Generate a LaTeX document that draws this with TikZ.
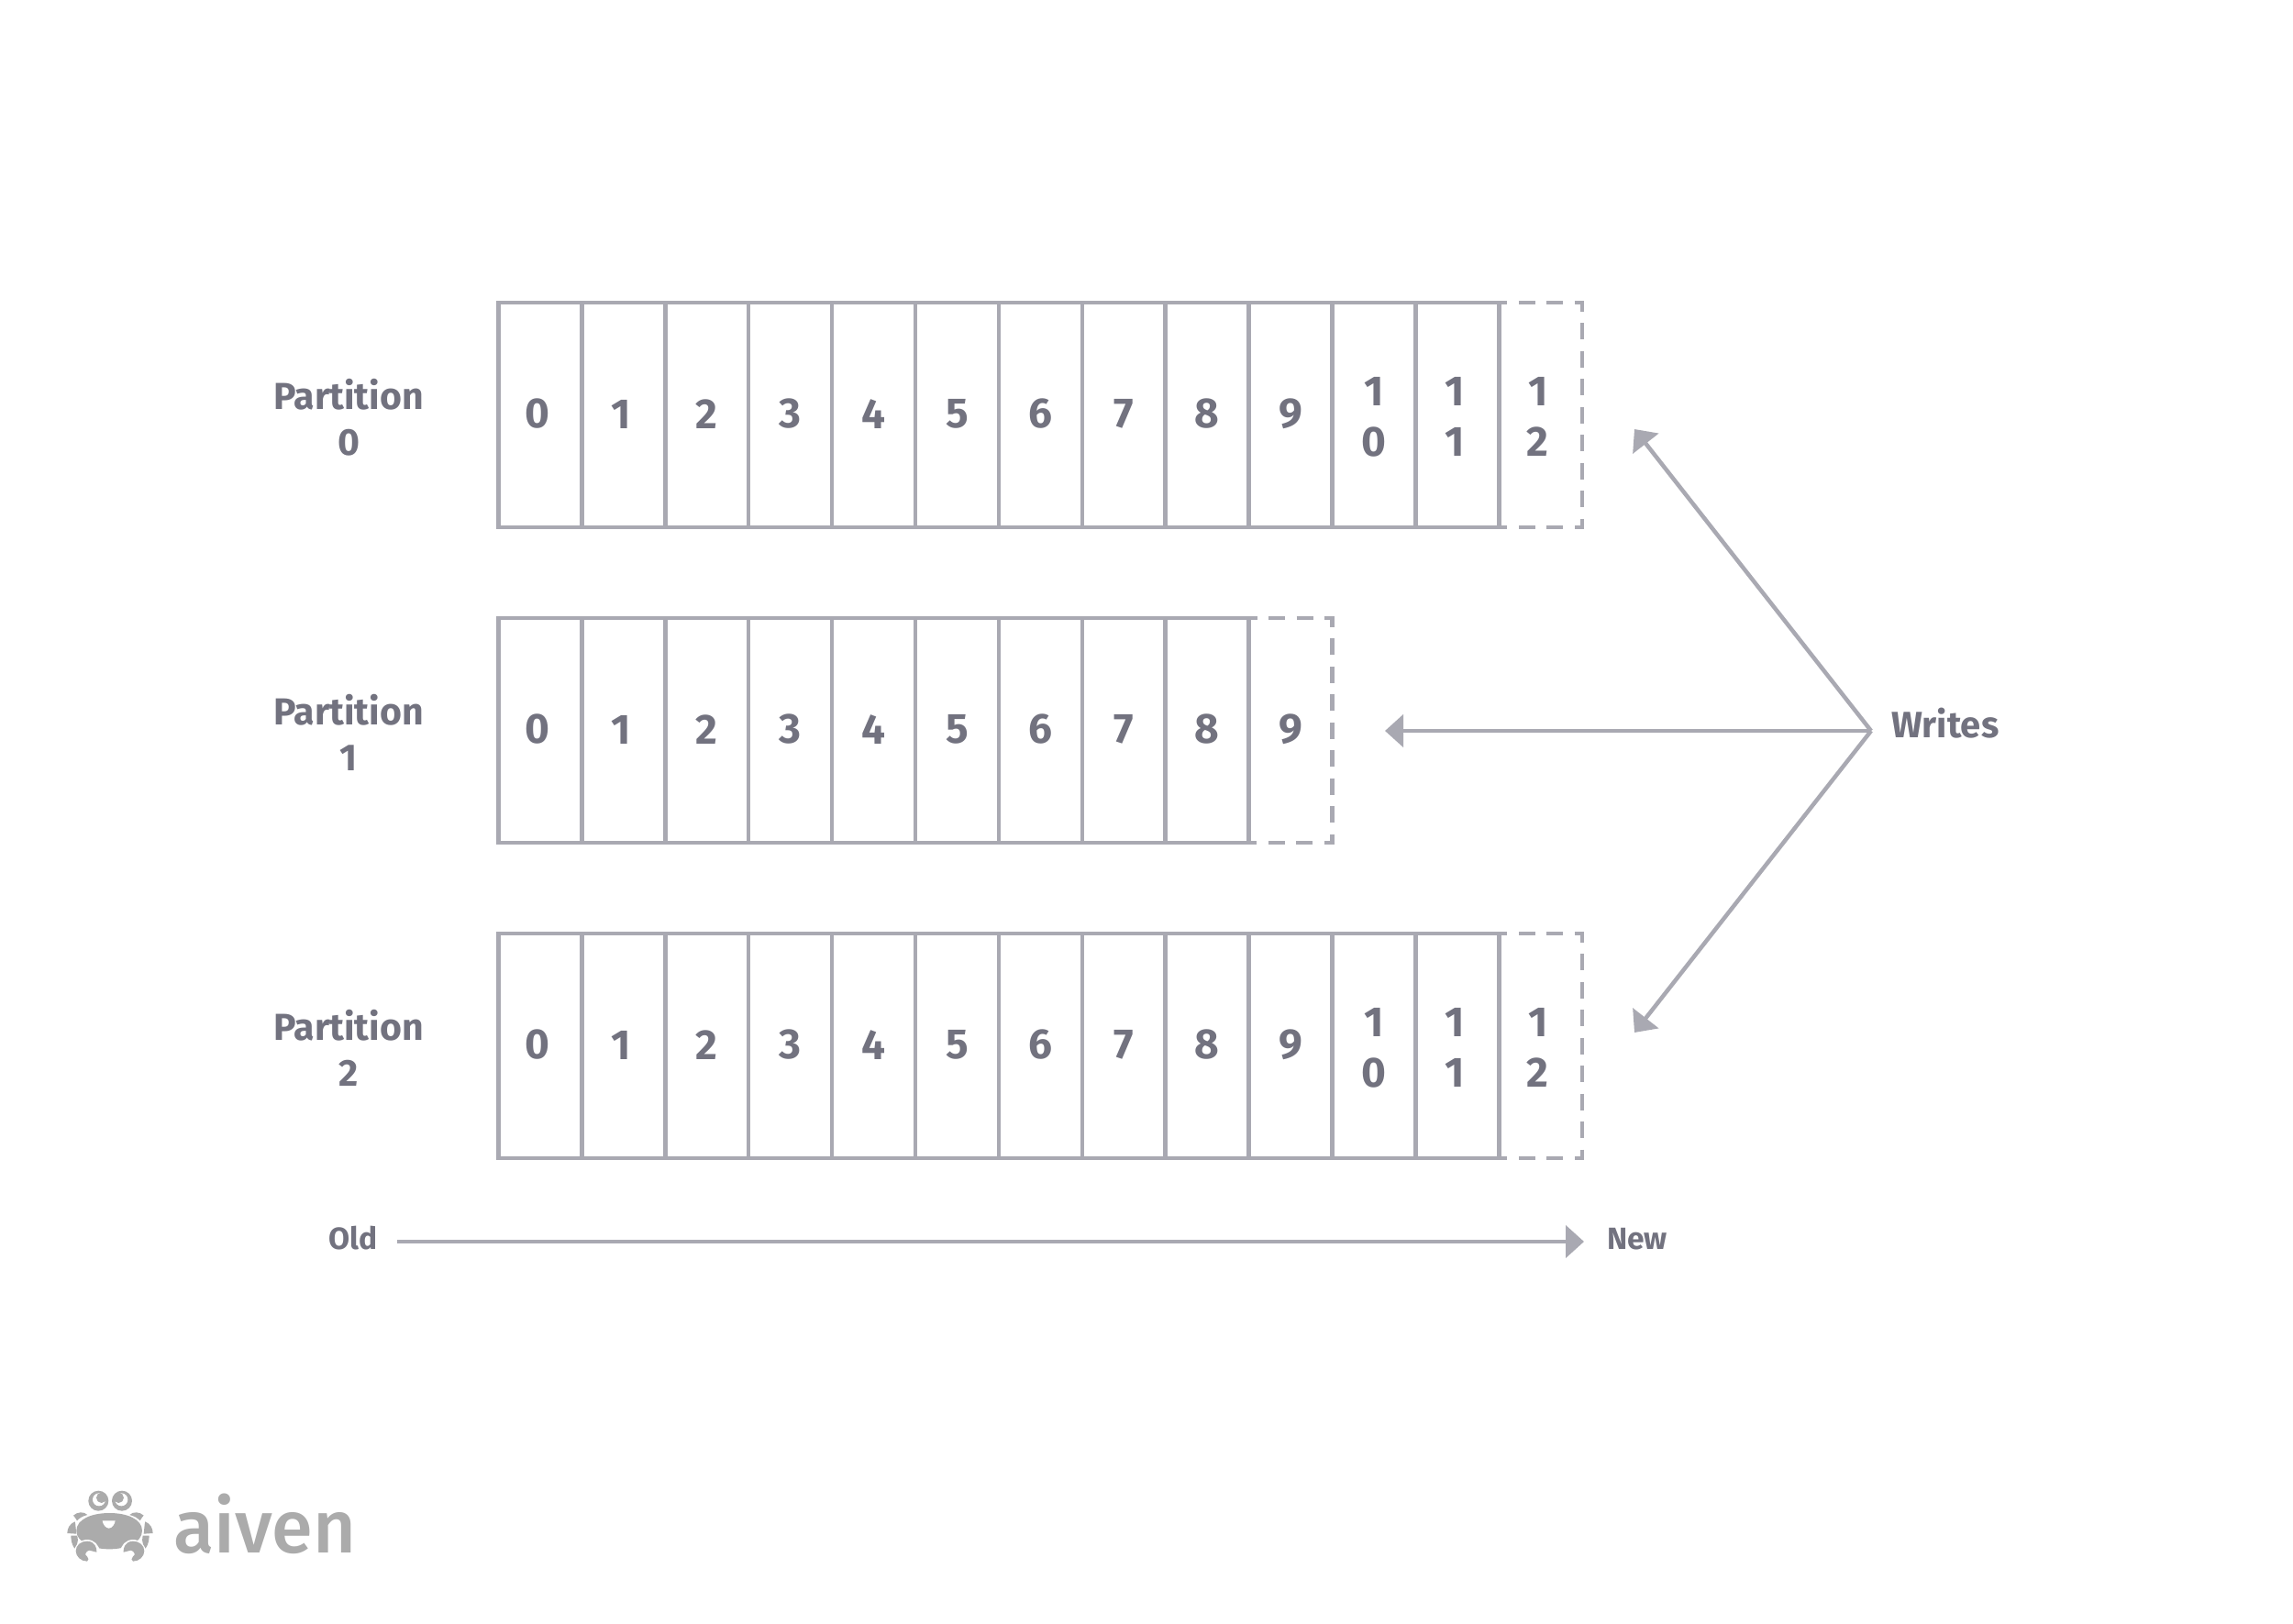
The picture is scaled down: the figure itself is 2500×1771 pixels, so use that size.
\documentclass[tikz,border=0pt]{standalone}
\usepackage{fontspec}
\setmainfont{Fira Sans}
\usetikzlibrary{arrows.meta}
\definecolor{linegray}{HTML}{A9A9B2}
\definecolor{textgray}{HTML}{72727F}
\definecolor{logogray}{HTML}{ABABAB}
\tikzset{
  cellbox/.style={draw=linegray,line width=4.5pt,minimum width=90.9pt,minimum height=245pt,inner sep=0pt,outer sep=0pt,anchor=north west},
  newcell/.style={cellbox,draw=none},
  digit/.style={text=textgray,font=\fontsize{46}{55}\selectfont\bfseries,align=center,inner sep=0pt,yshift=1pt},
  pair/.style={digit,yshift=-3pt},
  label/.style={text=textgray,font=\fontsize{41}{50}\selectfont\bfseries,align=center,inner sep=0pt},
  small/.style={text=textgray,font=\fontsize{33.5}{36}\selectfont\bfseries,inner sep=0pt},
  dashcell/.style={draw=linegray,line width=4.5pt,dash pattern=on 18pt off 12.5pt,dash phase=9pt},
  flow/.style={draw=linegray,line width=4.5pt,-{Triangle[length=20pt,width=35pt]}},
  logopart/.style={fill=logogray,draw=none}
}
\begin{document}
\begin{tikzpicture}[x=1pt,y=-1pt]
\useasboundingbox (0,0) rectangle (2500,1771);
% rows: name, top, number of solid cells
\foreach \r/\top/\n in {0/330/12,1/674/9,2/1018/12}{
  \pgfmathtruncatemacro{\last}{\n-1}
  \foreach \i in {0,...,\last}{
    \node[cellbox] (p\r c\i) at ({543.5+90.9*\i},\top) {};
  }
  \node[newcell] (p\r n) at ({543.5+90.9*\n},\top) {};
  \draw[dashcell] (p\r c\last.north east) -- (p\r n.north east) -- (p\r n.south east) -- (p\r c\last.south east);
  \foreach \i in {0,...,\last}{
    \ifnum\i<2
      \node[digit,xshift=-3pt] at (p\r c\i.center) {\i};
    \else\ifnum\i<10
      \node[digit] at (p\r c\i.center) {\i};
    \else\ifnum\i=10
      \node[pair] at (p\r c\i.center) {1\\0};
    \else
      \node[pair,xshift=-3pt] at (p\r c\i.center) {1\\1};
    \fi\fi\fi
  }
  \ifnum\n=12
    \node[pair,xshift=-3pt] at (p\r n.center) {1\\2};
  \else
    \node[digit] at (p\r n.center) {9};
  \fi
  \node[label] (lab\r) at (380,{\top+125}) {Partition\\\r};
}
\node[label,font=\fontsize{40}{50}\selectfont\bfseries,anchor=base west] (writes) at (2062,804) {Writes};
\coordinate (apex) at (2040,797);
\coordinate (t0) at (1782,468);
\coordinate (t1) at (1510,797);
\coordinate (t2) at (1782,1126);
\draw[flow] (apex) -- (t0);
\draw[flow] (apex) -- (t1);
\draw[flow] (apex) -- (t2);
\node[small,anchor=base west] (old) at (358,1362) {Old};
\node[small,anchor=base west] (new) at (1752,1362) {New};
\coordinate (oldend) at (433,1354);
\coordinate (newend) at (1727,1354);
\draw[flow] (oldend) -- (newend);
% logo
\begin{scope}[shift={(40,1590)},x=0.3333pt,y=-0.3333pt]
  \fill[logopart] (202,140) circle (33);
  \fill[white] (204,136) circle (21);
  \fill[logopart] (212,130) circle (17);
  \fill[logopart] (279,140) circle (33);
  \fill[white] (277,136) circle (21);
  \fill[logopart] (268,130) circle (17);
  % legs
  \fill[logopart] (120,188) .. controls (132,176) and (155,174) .. (166,186) .. controls (150,190) and (140,196) .. (132,205) .. controls (128,198) and (124,192) .. (120,188) -- cycle;
  \fill[logopart] (350,188) .. controls (338,176) and (315,174) .. (304,186) .. controls (320,190) and (330,196) .. (338,205) .. controls (342,198) and (346,192) .. (350,188) -- cycle;
  \fill[logopart] (100,246) .. controls (100,230) and (108,215) .. (125,208) .. controls (128,220) and (128,235) .. (130,248) -- cycle;
  \fill[logopart] (380,246) .. controls (380,230) and (372,215) .. (355,208) .. controls (352,220) and (352,235) .. (350,248) -- cycle;
  \fill[logopart] (112,254) -- (133,254) .. controls (134,265) and (137,272) .. (132,282) -- (124,296) .. controls (116,285) and (112,270) .. (112,254) -- cycle;
  \fill[logopart] (368,254) -- (347,254) .. controls (346,265) and (343,272) .. (348,282) -- (356,296) .. controls (364,285) and (368,270) .. (368,254) -- cycle;
  % body
  \fill[logopart] (130,238) .. controls (130,200) and (180,180) .. (238,180) .. controls (296,180) and (345,200) .. (345,238) .. controls (345,275) and (295,298) .. (238,298) .. controls (180,298) and (130,275) .. (130,238) -- cycle;
  % mouth
  \fill[white] (215,205) -- (257,205) .. controls (256,216) and (246,230) .. (236,230) .. controls (226,230) and (216,216) .. (215,205) -- cycle;
  % claws
  \fill[white] (165,308) circle (41);
  \fill[white] (315,308) circle (41);
  \fill[logopart] (165,272) .. controls (190,272) and (198,295) .. (196,308) -- (172,302) .. controls (160,305) and (155,318) .. (165,322) .. controls (172,328) and (170,334) .. (165,338) .. controls (145,338) and (128,322) .. (128,304) .. controls (128,285) and (145,272) .. (165,272) -- cycle;
  \fill[logopart] (315,272) .. controls (290,272) and (282,295) .. (284,308) -- (308,302) .. controls (320,305) and (325,318) .. (315,322) .. controls (308,328) and (310,334) .. (315,338) .. controls (335,338) and (352,322) .. (352,304) .. controls (352,285) and (335,272) .. (315,272) -- cycle;
\end{scope}
\node[anchor=base west,inner sep=0pt,text=logogray,font=\fontsize{81}{81}\selectfont\fontspec{Fira Sans Medium}] (logo) at (189,1693.5) {aiven};
\end{tikzpicture}
\end{document}
